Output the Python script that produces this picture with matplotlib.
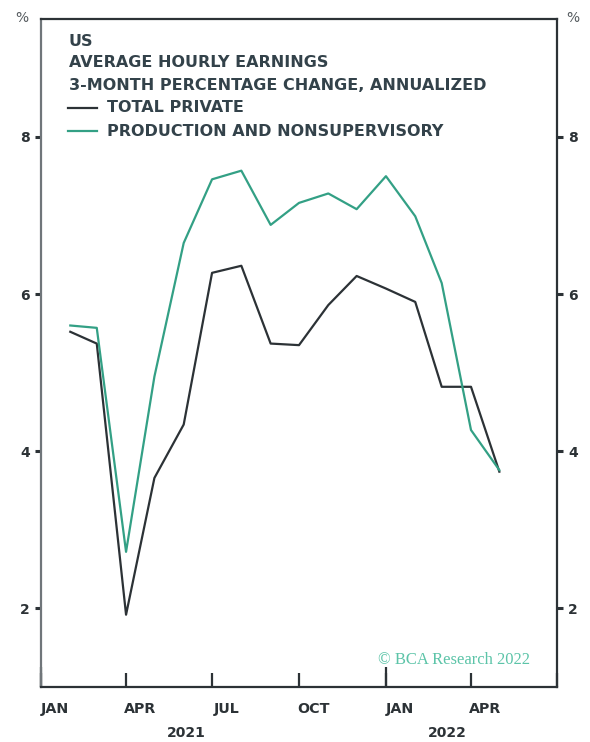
import matplotlib
matplotlib.use("Agg")
import matplotlib.pyplot as plt
import matplotlib.transforms as mtransforms
import pandas as pd

dates = pd.to_datetime([
    "2021-02-01", "2021-03-01", "2021-04-01", "2021-05-01", "2021-06-01", "2021-07-01",
    "2021-08-01", "2021-09-01", "2021-10-01", "2021-11-01", "2021-12-01", "2022-01-01",
    "2022-02-01", "2022-03-01", "2022-04-01", "2022-05-01",
])
total_private = [5.52, 5.37, 1.92, 3.66, 4.34, 6.27, 6.36, 5.37, 5.35, 5.86, 6.23, 6.07,
                 5.90, 4.82, 4.82, 3.74]
prod_nonsup = [5.60, 5.57, 2.72, 4.95, 6.65, 7.46, 7.57, 6.88, 7.16, 7.28, 7.08, 7.50,
               6.99, 6.14, 4.27, 3.76]
y_ticks = [2, 4, 6, 8]
month_labels = ["JAN", "APR", "JUL", "OCT", "JAN", "APR"]
year_labels = ["2021", "2022"]

title_lines = ["US", "AVERAGE HOURLY EARNINGS", "3-MONTH PERCENTAGE CHANGE, ANNUALIZED"]
series_names = ["TOTAL PRIVATE", "PRODUCTION AND NONSUPERVISORY"]

DARK = "#2c3236"
TEAL = "#33a085"
TXT = "#33424a"

plt.rcParams['font.family'] = ['DejaVu Sans']
fig = plt.figure(figsize=(5.9, 7.42), dpi=100)
ax = fig.add_axes([41/590, 1-687/742, 516/590, 668/742])

ax.plot(dates, total_private, color=DARK, lw=1.6)
ax.plot(dates, prod_nonsup, color=TEAL, lw=1.6)

ax.set_xlim(pd.Timestamp("2021-01-01"), pd.Timestamp("2022-07-01"))
ax.set_ylim(1, 9.5)

# spines
for s in ["top", "right", "bottom"]:
    ax.spines[s].set_color(DARK)
    ax.spines[s].set_linewidth(1.6)
ax.spines["left"].set_color("#70767a")
ax.spines["left"].set_linewidth(1.6)

# y ticks both sides
ax.set_yticks(y_ticks)
ax.tick_params(axis="y", which="major", direction="out", length=4.5, width=2.2, color=DARK,
               labelsize=10, labelcolor=DARK, left=True, right=True, labelleft=True,
               labelright=True, pad=3.5)
for lab in ax.get_yticklabels():
    lab.set_fontweight("bold")

# x ticks: quarter ticks inward, month labels at mid-month
quarter_ticks = pd.date_range("2021-01-01", "2022-07-01", freq="QS")
ax.set_xticks(quarter_ticks)
ax.set_xticklabels([""] * len(quarter_ticks))
ax.tick_params(axis="x", which="major", direction="in", length=10, width=1.6, color=DARK)
# longer ticks at year starts
bt = mtransforms.blended_transform_factory(ax.transData, ax.transAxes)
for d in [pd.Timestamp("2021-01-01"), pd.Timestamp("2022-01-01")]:
    ax.plot([d, d], [0, 0.03], transform=bt, color=DARK, lw=1.6, clip_on=False,
            solid_capstyle="butt")

label_pos = [q + pd.Timedelta(days=15) for q in quarter_ticks[:len(month_labels)]]
ax.set_xticks(label_pos, minor=True)
ax.set_xticklabels(month_labels, minor=True)
ax.tick_params(axis="x", which="minor", length=0, pad=11, labelsize=10.3, labelcolor=DARK)
for lab in ax.get_xticklabels(minor=True):
    lab.set_fontweight("bold")

btrans = mtransforms.blended_transform_factory(ax.transData, fig.transFigure)
year_pos = [pd.Timestamp("2021-06-04"), pd.Timestamp("2022-03-07")]
for yp, yl in zip(year_pos, year_labels):
    ax.text(yp, 1-733/742, yl, transform=btrans, ha="center", va="center",
            fontsize=10, fontweight="bold", color=DARK)

# % labels
fig.text(22/590, 1-18/742, "%", ha="center", va="center", fontsize=10, color="#555b5f")
fig.text(573/590, 1-18/742, "%", ha="center", va="center", fontsize=10, color="#555b5f")

# title
title_y = [0.967, 0.9356, 0.901]
for t, yy in zip(title_lines, title_y):
    ax.text(0.054, yy, t, transform=ax.transAxes, ha="left", va="center",
            fontsize=11.5, fontweight="bold", color=TXT)

leg_y = [0.8668, 0.832]
for name, col, yy in zip(series_names, [DARK, TEAL], leg_y):
    ax.plot([0.052, 0.1085], [yy, yy], transform=ax.transAxes, color=col, lw=1.6)
    ax.text(0.128, yy, name, transform=ax.transAxes, ha="left", va="center",
            fontsize=11.5, fontweight="bold", color=TXT)

ax.text(0.948, 0.040, "© BCA Research 2022", transform=ax.transAxes, ha="right",
        va="center", fontsize=12, color="#5cc4a8", family=["Liberation Serif", "DejaVu Serif"])

fig.savefig("out.png", dpi=100)
